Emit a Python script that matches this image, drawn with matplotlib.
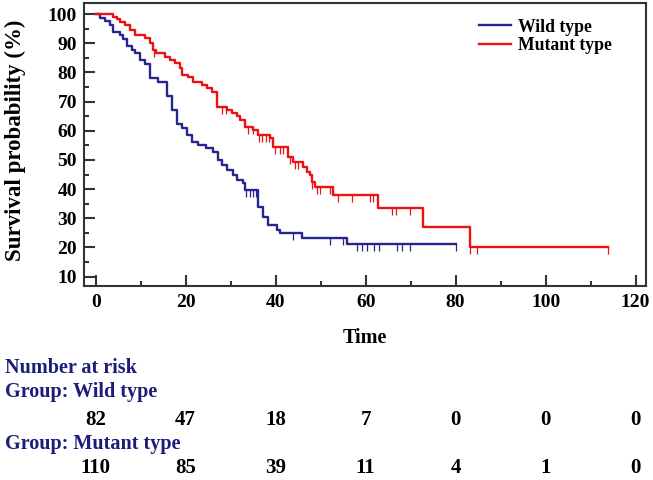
'''
Kaplan-Meier survival curves, wild type vs mutant type, with number-at-risk table
'''

import matplotlib as mpl
import matplotlib.pyplot as plt
import matplotlib.transforms as mtransforms
import numpy as np

mpl.rcParams.update({'font.family': 'Liberation Serif', 'font.weight': 'bold',
                     'axes.labelweight': 'bold'})

# survival data (time, survival % after the drop)
wild_t = [0, 1.0, 2.0, 3.2, 3.9, 5.4, 6.1, 6.9, 8.0, 8.7, 9.8, 11.0, 12.0, 13.9, 15.8,
          16.9, 18.0, 19.1, 20.2, 21.3, 22.8, 24.5, 26.0, 27.2, 28.0, 29.1, 30.6, 31.3,
          32.8, 33.2, 36.1, 37.2, 38.3, 40.2, 41.0, 45.8, 55.9]
wild_s = [100, 98.8, 97.6, 96.3, 93.9, 92.7, 91.5, 89.0, 87.8, 86.6, 84.1, 82.9, 78.0, 76.8, 72.0,
          67.1, 62.2, 61.0, 58.5, 56.1, 55.0, 54.0, 52.8, 50.0, 48.3, 46.6, 44.8, 43.1,
          42.0, 39.6, 34.0, 30.6, 27.7, 26.0, 24.9, 23.4, 21.2]
wild_end = 80.0
wild_cens = [33.5, 34.2, 34.9, 35.6, 43.9, 52.0, 54.9, 58.0, 59.1, 60.2, 61.8, 62.9,
             67.0, 68.1, 69.9, 80.0]

mut_t = [0, 3.9, 4.7, 5.4, 6.5, 7.6, 8.7, 11.0, 12.1, 12.8, 13.5, 15.4, 16.5, 17.6, 18.7,
         19.1, 20.6, 21.7, 23.6, 24.8, 25.8, 27.0, 29.1, 30.2, 31.3, 32.1, 33.2, 35.0,
         36.1, 38.7, 39.5, 42.8, 43.9, 46.1, 46.9, 47.6, 48.0, 48.7, 52.8, 62.8, 72.8, 83.2]
mut_s = [100, 99.1, 98.2, 97.3, 96.4, 94.5, 92.7, 91.8, 90.0, 87.7, 86.5, 85.4, 84.2, 83.1, 81.4,
         79.1, 78.3, 76.8, 75.7, 74.5, 73.4, 68.2, 67.1, 66.2, 65.1, 63.7, 61.4, 60.3,
         58.5, 57.4, 54.5, 51.1, 49.4, 47.7, 46.0, 44.8, 42.5, 40.8, 38.0, 33.4, 26.9, 20.3]
mut_end = 113.9
mut_cens = [12.9, 28.0, 29.0, 33.9, 34.9, 36.3, 37.0, 37.8, 38.5, 39.8, 41.0, 41.7, 43.2,
            44.3, 45.0, 48.0, 49.1, 49.8, 52.0, 53.9, 56.9, 60.9, 61.7, 65.8, 66.7, 69.8,
            83.2, 84.8, 113.9]

risk_times = [0, 20, 40, 60, 80, 100, 120]
risk_wild = [82, 47, 18, 7, 0, 0, 0]
risk_mut = [110, 85, 39, 11, 4, 1, 0]

c_wild = '#26268e'
c_mut = '#ee1111'
c_title = '#1c1c7a'

fig = plt.figure(figsize=(6.53, 4.8), dpi=100)
ax = fig.add_axes([0.1286, 0.4042, 0.8606, 0.5896])


def km(ax, t, s, end, cens, color, label):
    t = np.asarray(t)
    s = np.asarray(s)
    ax.step(np.append(t, end), np.append(s, s[-1]), where='post', color=color, lw=1.7, label=label)
    idx = np.searchsorted(t, cens, side='right') - 1
    ax.vlines(cens, s[idx] - 2.4, s[idx], color=color, lw=0.9)


km(ax, wild_t, wild_s, wild_end, wild_cens, c_wild, 'Wild type')
km(ax, mut_t, mut_s, mut_end, mut_cens, c_mut, 'Mutant type')

# axes styling
ax.set_xlim(-2.6, 122.3)
ax.set_ylim(6.8, 103.8)
ax.set_xticks(np.arange(0, 121, 20))
ax.set_xticks(np.arange(10, 120, 20), minor=True)
ax.set_yticks(np.arange(10, 101, 10))
ax.set_yticks(np.arange(15, 100, 10), minor=True)
for sp in ax.spines.values():
    sp.set_linewidth(1.5)
    sp.set_color('#333333')
ax.tick_params(which='both', direction='in', color='#333333', width=1.5, labelsize=14)
ax.tick_params(which='major', length=8)
ax.tick_params(which='minor', length=3.6)
ax.tick_params(axis='x', pad=6)
ax.tick_params(axis='y', pad=5)

ax.set_ylabel('Survival probability (%)', fontsize=16.5)
ax.yaxis.set_label_coords(-0.104, 0.515)
ax.set_xlabel('Time', fontsize=14.5)
ax.xaxis.set_label_coords(0.5, -0.15)

leg = ax.legend(loc='upper left', bbox_to_anchor=(0.703, 0.945), frameon=False, fontsize=12.7,
                borderpad=0, borderaxespad=0, handlelength=1.8, handletextpad=0.4,
                labelspacing=0.1)

# number at risk table
tr = mtransforms.blended_transform_factory(ax.transData, fig.transFigure)
fig.text(0.008, 1 - 368 / 480, 'Number at risk', color=c_title, fontsize=14.5, va='center')
fig.text(0.008, 1 - 392 / 480, 'Group: Wild type', color=c_title, fontsize=14.5, va='center')
fig.text(0.008, 1 - 444 / 480, 'Group: Mutant type', color=c_title, fontsize=14.5, va='center')
for x, n in zip(risk_times, risk_wild):
    ax.text(x, 1 - 420 / 480, str(n), transform=tr, ha='center', va='center', fontsize=15)
for x, n in zip(risk_times, risk_mut):
    ax.text(x, 1 - 468 / 480, str(n), transform=tr, ha='center', va='center', fontsize=15)

fig.savefig('out.png', dpi=100)
